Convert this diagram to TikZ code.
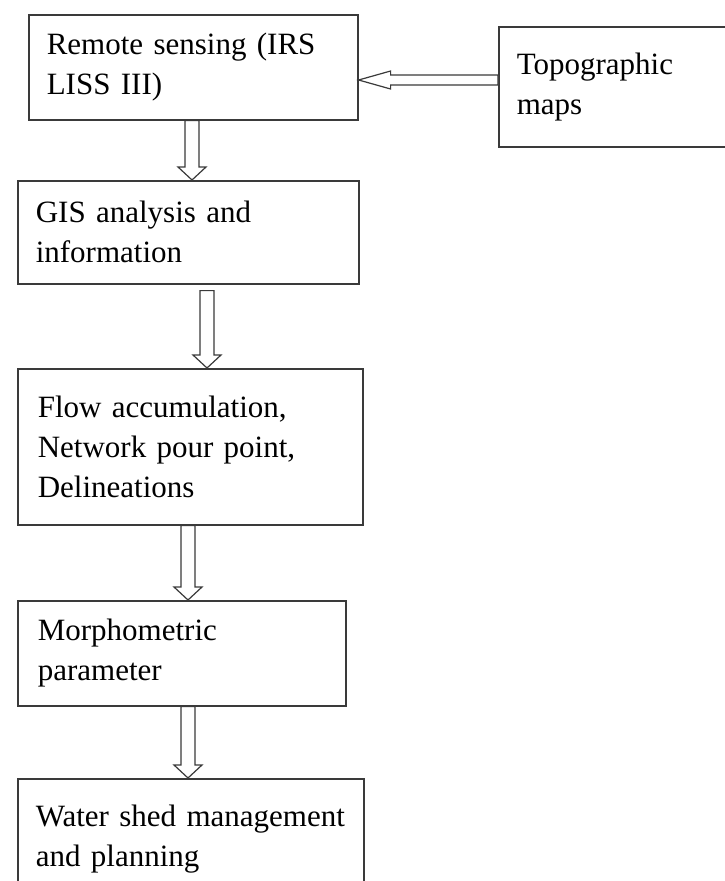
\documentclass[tikz,border=0pt]{standalone}
\usepackage{fontspec}
\setmainfont{Liberation Serif}
\usetikzlibrary{calc}

\definecolor{edge}{HTML}{3A3A3A}

\tikzset{
  stage/.style={draw=edge, line width=1.6pt, anchor=north west, align=left,
    inner xsep=18pt, inner ysep=0pt, font=\fontsize{31}{40}\selectfont},
  hollow/.style={draw=edge, line width=1.2pt, fill=white}
}

% hollow block arrow pointing down, at a given x, from one node to the next
\newcommand{\downblock}[4][0pt]{%
  \draw [hollow] let \p1 = (#3.south), \p2 = (#4.north) in
    (#2pt-7pt, \y1-#1) -- (#2pt+7pt, \y1-#1) -- (#2pt+7pt, \y2+13pt)
    -- (#2pt+14pt, \y2+13pt) -- (#2pt, \y2) -- (#2pt-14pt, \y2+13pt)
    -- (#2pt-7pt, \y2+13pt) -- cycle;}

\begin{document}
\begin{tikzpicture}[x=1pt, y=-1pt]
    \useasboundingbox (0,0) rectangle (725,881);

    \node [stage, minimum width=329pt, minimum height=105pt, text width=293pt] (rs) at (28,14) {Remote sensing (IRS\\LISS III)};
    \node [stage, minimum width=240pt, minimum height=120pt, text width=204pt, inner xsep=17pt] (topo) at (498,26) {Topographic\\maps};
    \node [stage, minimum width=341pt, minimum height=103pt, text width=305pt] (gis) at (17,180) {GIS analysis and\\information};
    \node [stage, minimum width=345pt, minimum height=156pt, text width=305pt, inner xsep=20pt] (flow) at (17,368) {Flow accumulation,\\Network pour point,\\Delineations};
    \node [stage, minimum width=328pt, minimum height=105pt, text width=288pt, inner xsep=20pt] (morph) at (17,600) {Morphometric\\parameter};
    \node [stage, minimum width=346pt, minimum height=120pt, text width=310pt] (shed) at (17,778) {Water shed management\\and planning};

    % side input
    \draw [hollow] let \p1 = (topo.west), \p2 = (rs.east) in
      (\x1, -75pt) -- (\x2+32pt, -75pt) -- (\x2+32pt, -71pt) -- (\x2, -80pt)
      -- (\x2+32pt, -89pt) -- (\x2+32pt, -85pt) -- (\x1, -85pt) -- cycle;

    \downblock{192}{rs}{gis}
    \downblock[6pt]{207}{gis}{flow}
    \downblock{188}{flow}{morph}
    \downblock{188}{morph}{shed}
\end{tikzpicture}
\end{document}
